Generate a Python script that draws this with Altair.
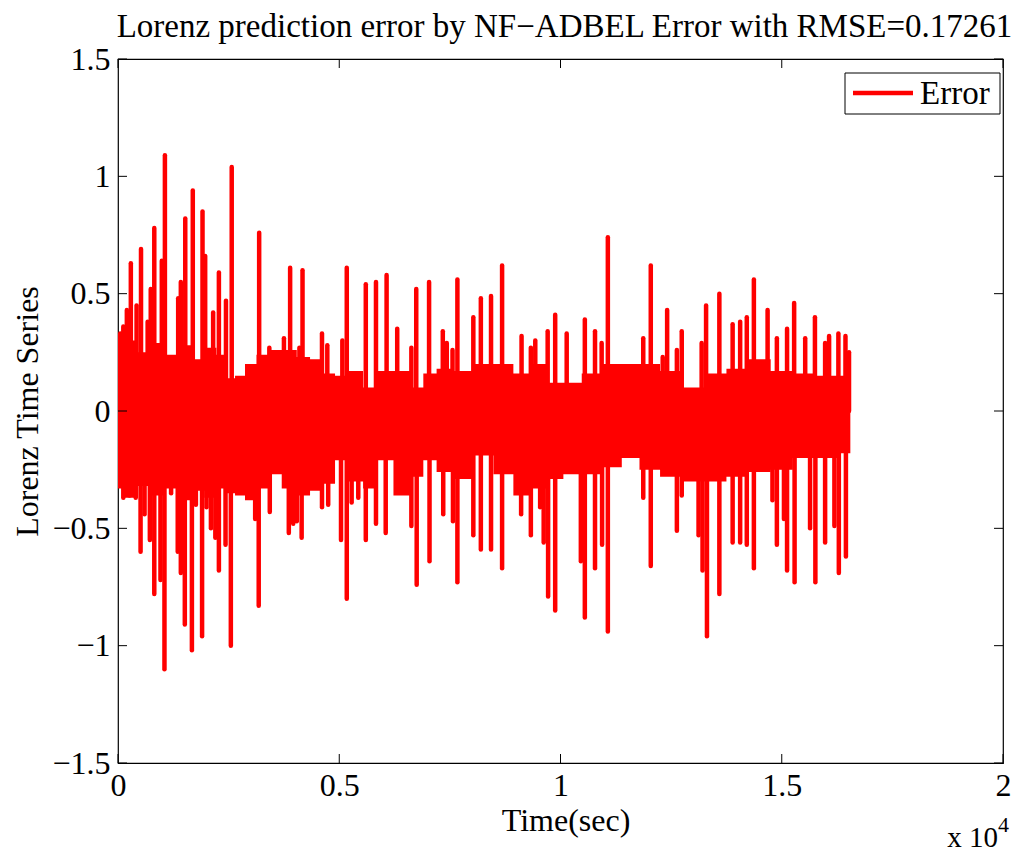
import altair as alt
import pandas as pd

# time axis in units of 10^4 s
up_t = [0.005, 0.012, 0.020, 0.029, 0.042, 0.052, 0.067, 0.074, 0.082, 0.099, 0.106,
        0.136, 0.142, 0.152, 0.169, 0.191, 0.197, 0.215, 0.228, 0.244, 0.257, 0.319,
        0.342, 0.375, 0.389, 0.410, 0.417, 0.461, 0.473, 0.507, 0.517, 0.560, 0.583,
        0.607, 0.631, 0.663, 0.674, 0.703, 0.734, 0.743, 0.756, 0.767, 0.803, 0.820,
        0.843, 0.868, 0.912, 0.933, 0.943, 0.971, 0.988, 1.014, 1.055, 1.078, 1.093,
        1.107, 1.187, 1.204, 1.231, 1.241, 1.263, 1.274, 1.319, 1.329, 1.359, 1.389,
        1.406, 1.421, 1.437, 1.468, 1.489, 1.512, 1.528, 1.553, 1.575, 1.598, 1.607,
        1.628, 1.644, 1.652]
up_v = [0.33, 0.36, 0.43, 0.63, 0.45, 0.69, 0.38, 0.52, 0.78, 0.64, 1.09,
        0.48, 0.55, 0.82, 0.94, 0.85, 0.66, 0.42, 0.59, 0.47, 1.04, 0.76,
        0.27, 0.31, 0.61, 0.27, 0.60, 0.33, 0.28, 0.30, 0.61, 0.54, 0.55,
        0.58, 0.35, 0.27, 0.52, 0.55, 0.34, 0.29, 0.26, 0.56, 0.40, 0.48,
        0.49, 0.62, 0.32, 0.27, 0.30, 0.34, 0.41, 0.33, 0.39, 0.34, 0.29,
        0.74, 0.31, 0.62, 0.23, 0.43, 0.26, 0.34, 0.29, 0.45, 0.50, 0.37,
        0.38, 0.40, 0.56, 0.43, 0.31, 0.35, 0.46, 0.31, 0.40, 0.29, 0.32,
        0.33, 0.32, 0.25]

down_t = [0.012, 0.026, 0.040, 0.051, 0.060, 0.072, 0.082, 0.096, 0.105, 0.120,
          0.135, 0.142, 0.151, 0.167, 0.176, 0.190, 0.200, 0.210, 0.220, 0.228,
          0.243, 0.255, 0.310, 0.318, 0.343, 0.386, 0.396, 0.404, 0.415, 0.461,
          0.475, 0.504, 0.517, 0.528, 0.543, 0.560, 0.583, 0.605, 0.663, 0.675,
          0.704, 0.735, 0.757, 0.767, 0.803, 0.820, 0.843, 0.868, 0.911, 0.933,
          0.954, 0.962, 0.972, 0.988, 1.046, 1.055, 1.078, 1.094, 1.107, 1.187,
          1.204, 1.263, 1.274, 1.312, 1.321, 1.331, 1.359, 1.389, 1.406, 1.421,
          1.437, 1.479, 1.489, 1.505, 1.512, 1.529, 1.564, 1.576, 1.598, 1.619,
          1.629, 1.645]
down_v = [-0.37, -0.36, -0.37, -0.60, -0.44, -0.55, -0.78, -0.72, -1.10, -0.35,
          -0.60, -0.69, -0.91, -1.02, -0.40, -0.96, -0.41, -0.50, -0.54, -0.68,
          -0.57, -1.00, -0.46, -0.83, -0.43, -0.52, -0.48, -0.47, -0.54, -0.41,
          -0.40, -0.55, -0.80, -0.39, -0.37, -0.55, -0.48, -0.52, -0.49, -0.74,
          -0.64, -0.44, -0.47, -0.73, -0.53, -0.59, -0.59, -0.67, -0.44, -0.53,
          -0.41, -0.56, -0.79, -0.85, -0.64, -0.88, -0.67, -0.57, -0.94, -0.37,
          -0.66, -0.51, -0.36, -0.53, -0.68, -0.96, -0.78, -0.56, -0.56, -0.57,
          -0.67, -0.38, -0.57, -0.46, -0.68, -0.73, -0.50, -0.73, -0.56, -0.49,
          -0.69, -0.62]

# dense core of the error trace: upper and lower edge read at these times
band_t = [0.0, 0.03, 0.06, 0.09, 0.12, 0.15, 0.18, 0.21, 0.235, 0.253, 0.276, 0.298,
          0.328, 0.351, 0.389, 0.419, 0.449, 0.479, 0.502, 0.539, 0.569, 0.600, 0.645,
          0.675, 0.705, 0.735, 0.780, 0.826, 0.871, 0.916, 0.954, 0.984, 1.029, 1.067,
          1.120, 1.157, 1.20, 1.25, 1.30, 1.35, 1.40, 1.45, 1.50, 1.55, 1.60, 1.655]
band_hi = [0.26, 0.30, 0.25, 0.29, 0.24, 0.28, 0.22, 0.27, 0.24, 0.14, 0.15, 0.20,
           0.24, 0.26, 0.26, 0.23, 0.22, 0.16, 0.15, 0.17, 0.10, 0.17, 0.17,
           0.10, 0.16, 0.18, 0.17, 0.20, 0.20, 0.16, 0.20, 0.12, 0.12, 0.16,
           0.20, 0.20, 0.20, 0.17, 0.10, 0.16, 0.18, 0.22, 0.17, 0.16, 0.15, 0.15]
band_lo = [-0.33, -0.37, -0.32, -0.36, -0.33, -0.38, -0.34, -0.37, -0.33, -0.35, -0.36, -0.38,
           -0.33, -0.27, -0.33, -0.36, -0.34, -0.31, -0.21, -0.30, -0.33, -0.21, -0.36,
           -0.28, -0.21, -0.26, -0.29, -0.19, -0.27, -0.36, -0.33, -0.29, -0.27, -0.27,
           -0.24, -0.20, -0.25, -0.28, -0.30, -0.30, -0.28, -0.26, -0.25, -0.20, -0.20, -0.18]

x_ticks = [0, 0.5, 1, 1.5, 2]
y_ticks = [-1.5, -1, -0.5, 0, 0.5, 1, 1.5]
legend_labels = ["Error"]
title_text = ["Lorenz prediction error by NF\u2212ADBEL Error with RMSE=0.17261"]

FONT = "Liberation Serif"
FS = 32
W, H = 885, 704
TL = 9
RED = "#ff0000"

n_sp = len(up_t) + len(down_t)
spikes = pd.DataFrame({"t": up_t + down_t, "v": up_v + down_v, "base": [0.0] * n_sp})
band = pd.DataFrame({"t": band_t, "hi": band_hi, "lo": band_lo})
xt = pd.DataFrame({"t": x_ticks})
yt = pd.DataFrame({"v": y_ticks})
leg = pd.DataFrame({"label": legend_labels})

xscale = alt.Scale(domain=[0, 2], nice=False, zero=False)
yscale = alt.Scale(domain=[-1.5, 1.5], nice=False, zero=False)

xaxis = alt.Axis(values=x_ticks, format="~g", ticks=False, domain=False, grid=False,
                 labelFont=FONT, labelFontSize=FS, labelColor="black", labelPadding=7,
                 labelFlush=False, labelOverlap=False,
                 title="Time(sec)", titleFont=FONT, titleFontSize=FS, titleFontWeight="normal",
                 titleColor="black", titleX=W / 2 + 5, titleY=67, titleAlign="center",
                 titleBaseline="alphabetic")
yaxis = alt.Axis(values=y_ticks, format=".1~f", ticks=False, domain=False, grid=False,
                 labelFont=FONT, labelFontSize=FS, labelColor="black", labelPadding=8,
                 labelOverlap=False,
                 title="Lorenz Time Series", titleFont=FONT, titleFontSize=FS,
                 titleFontWeight="normal", titleColor="black", titleAngle=270,
                 titleX=-81, titleY=H / 2, titleAlign="center", titleBaseline="alphabetic")

X = lambda f: alt.X(f, scale=xscale, axis=xaxis)
Y = lambda f: alt.Y(f, scale=yscale, axis=yaxis)

band_layer = alt.Chart(band).mark_area(color=RED, opacity=1, interpolate="step").encode(
    x=X("t:Q"), y=Y("lo:Q"), y2=alt.Y2("hi:Q"))

spike_layer = alt.Chart(spikes).mark_rule(strokeWidth=4.5, strokeCap="round", color=RED).encode(
    x=X("t:Q"), y=Y("base:Q"), y2=alt.Y2("v:Q"))

tick_style = dict(color="black", strokeWidth=1)
left_ticks = alt.Chart(yt).mark_rule(**tick_style).encode(
    y=Y("v:Q"), x=alt.value(0), x2=alt.value(TL))
right_ticks = alt.Chart(yt).mark_rule(**tick_style).encode(
    y=Y("v:Q"), x=alt.value(W), x2=alt.value(W - TL))
bottom_ticks = alt.Chart(xt).mark_rule(**tick_style).encode(
    x=X("t:Q"), y=alt.value(H), y2=alt.value(H - TL))
top_ticks = alt.Chart(xt).mark_rule(**tick_style).encode(
    x=X("t:Q"), y=alt.value(0), y2=alt.value(TL))

# legend box drawn in the top-right corner of the axes
leg_box = alt.Chart(leg).mark_rect(fill="white", stroke="black", strokeWidth=1).encode(
    x=alt.value(727), x2=alt.value(882), y=alt.value(14), y2=alt.value(55))
leg_line = alt.Chart(leg).mark_rule(color=RED, strokeWidth=4.5).encode(
    x=alt.value(735), x2=alt.value(795), y=alt.value(34), y2=alt.value(34))
leg_text = alt.Chart(leg).mark_text(font=FONT, fontSize=33, align="left",
                                    baseline="alphabetic", color="black").encode(
    text="label:N", x=alt.value(802), y=alt.value(45))

title_layer = alt.Chart(pd.DataFrame({"s": title_text})).mark_text(
    font=FONT, fontSize=33, align="center", baseline="alphabetic", color="black").encode(
    text="s:N", x=alt.value(W / 2 + 4), y=alt.value(-22))

exp_base = alt.Chart(pd.DataFrame({"s": ["x 10"]})).mark_text(
    font=FONT, fontSize=29, align="right", baseline="alphabetic", color="black").encode(
    text="s:N", x=alt.value(880), y=alt.value(788))
exp_pow = alt.Chart(pd.DataFrame({"s": ["4"]})).mark_text(
    font=FONT, fontSize=22, align="left", baseline="alphabetic", color="black").encode(
    text="s:N", x=alt.value(880), y=alt.value(773))

chart = alt.layer(band_layer, spike_layer, left_ticks, right_ticks, bottom_ticks, top_ticks,
                  leg_box, leg_line, leg_text, title_layer, exp_base, exp_pow).properties(
    width=W, height=H,
    padding={"left": 118, "top": 59, "right": 23, "bottom": 91},
    autosize=alt.AutoSizeParams(type="none"),
    background="white",
).configure_view(stroke="black", strokeWidth=1.2)

chart.save("out.html", embed_options={"renderer": "svg", "actions": False})
